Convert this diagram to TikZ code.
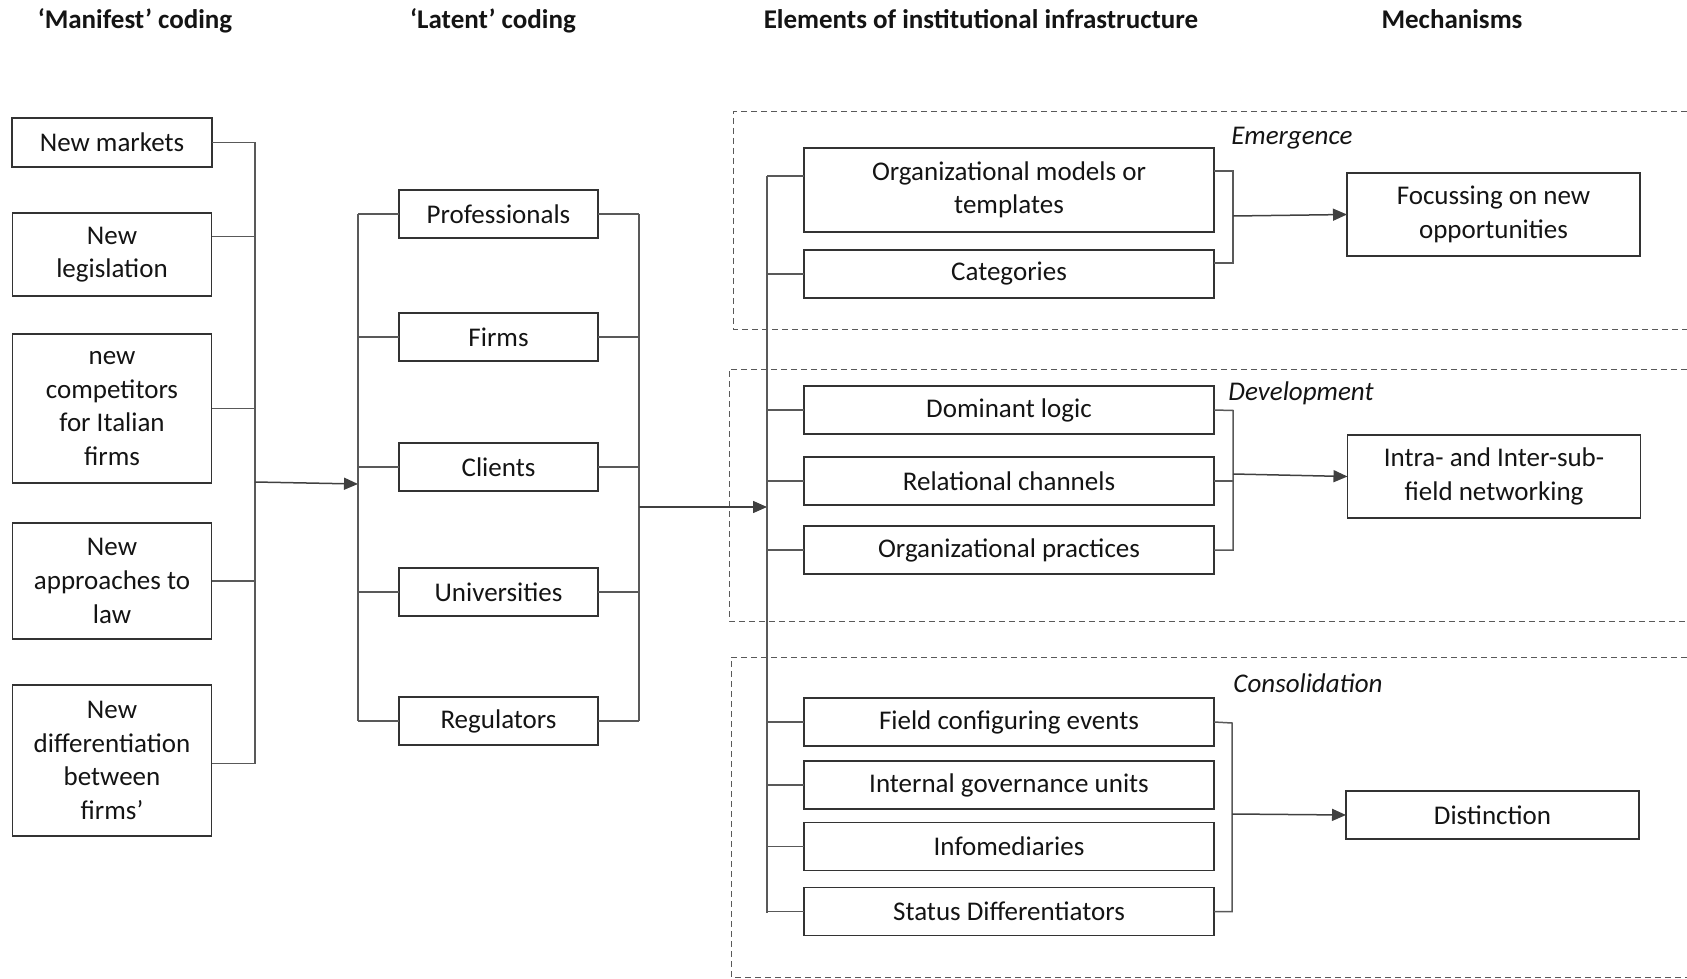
\documentclass[tikz,border=0pt]{standalone}
\usepackage{fontspec}
\setmainfont{Carlito}
\usetikzlibrary{positioning,arrows.meta}

\begin{document}
\begin{tikzpicture}[x=0.5pt, y=-0.5pt, node distance=20pt,
  main/.style = {draw=black!80, line width=0.8pt, align=center, inner sep=2pt, outer sep=0pt,
    text=black!92, font=\fontsize{13.5}{16.8}\selectfont},
  head/.style = {anchor=base, text=black!92, font=\bfseries\fontsize{13.5}{16}\selectfont},
  phase/.style = {anchor=base, text=black!92, font=\itshape\fontsize{13.5}{16}\selectfont},
  link/.style = {draw=black!65, line width=0.75pt},
  arr/.style = {link, draw=black!75, -{Triangle[length=7pt,width=6pt]}},
  zone/.style = {draw=black!65, line width=0.5pt, dash pattern=on 3pt off 2pt}]
\useasboundingbox (0,0) rectangle (1687,979);

% headers
\node[head] (h1) at (135,29) {‘Manifest’ coding};
\node[head] (h2) at (493,29) {‘Latent’ coding};
\node[head] (h3) at (981,29) {Elements of institutional infrastructure};
\node[head] (h4) at (1452,29) {Mechanisms};

% dashed phases
\draw[zone] (1687,112) -- (733,112) -- (733,329) -- (1687,329);
\draw[zone] (1687,369) -- (729,369) -- (729,621) -- (1687,621);
\draw[zone] (1687,657) -- (731,657) -- (731,977) -- (1687,977);
\node[phase] (p1) at (1292,145) {Emergence};
\node[phase] (p2) at (1301,400) {Development};
\node[phase] (p3) at (1308,692) {Consolidation};

% manifest coding
\node[main, minimum width=100pt, minimum height=24.5pt] (m1) at (112,142.5) {New markets};
\node[main, minimum width=99.5pt, minimum height=41.5pt] (m2) [below=23pt of m1] {New\\legislation};
\node[main, minimum width=99.5pt, minimum height=74.5pt] (m3) [below=19pt of m2] {new\\competitors\\for Italian\\firms};
\node[main, minimum width=99.5pt, minimum height=58pt] (m4) [below=20pt of m3] {New\\approaches to\\law};
\node[main, minimum width=99.5pt, minimum height=75.5pt] (m5) [below=23pt of m4] {New\\differentiation\\between\\firms’};

\coordinate (mtop) at (255,142.5);
\coordinate (mbot) at (255,764);
\draw[link] (mtop) -- (mbot);
\draw[link] (m1.east) -- (m1.east -| mtop);
\draw[link] ([yshift=9pt]m2.east) -- ([yshift=9pt]m2.east -| mtop);
\draw[link] (m3.east) -- (m3.east -| mtop);
\draw[link] (m4.east) -- (m4.east -| mtop);
\draw[link] ([yshift=-1.5pt]m5.east) -- ([yshift=-1.5pt]m5.east -| mtop);

% latent coding
\node[main, minimum width=99.5pt, minimum height=24pt] (l1) at (498.5,214) {Professionals};
\node[main, minimum width=99.5pt, minimum height=24pt] (l2) [below=37.5pt of l1] {Firms};
\node[main, minimum width=99.5pt, minimum height=24pt] (l3) [below=41pt of l2] {Clients};
\node[main, minimum width=99.5pt, minimum height=24pt] (l4) [below=38.5pt of l3] {Universities};
\node[main, minimum width=99.5pt, minimum height=24pt] (l5) [below=40.5pt of l4] {Regulators};

\coordinate (mout) at (255,482);
\coordinate (lin) at (358,484);
\draw[arr] (mout) -- (lin);

\coordinate (ltop) at (358,214);
\coordinate (lbot) at (358,721);
\coordinate (rtop) at (639,214);
\coordinate (rbot) at (639,721);
\draw[link] (ltop) -- (lbot);
\draw[link] (rtop) -- (rbot);
\draw[link] (l1.west -| ltop) -- (l1.west);
\draw[link] (l2.west -| ltop) -- (l2.west);
\draw[link] (l3.west -| ltop) -- (l3.west);
\draw[link] (l4.west -| ltop) -- (l4.west);
\draw[link] (l5.west -| ltop) -- (l5.west);
\draw[link] (l1.east) -- (l1.east -| rtop);
\draw[link] (l2.east) -- (l2.east -| rtop);
\draw[link] (l3.east) -- (l3.east -| rtop);
\draw[link] (l4.east) -- (l4.east -| rtop);
\draw[link] (l5.east) -- (l5.east -| rtop);

% elements of infrastructure
\node[main, minimum width=205pt, minimum height=42pt] (e1) at (1009,190) {Organizational models or\\templates};
\node[main, minimum width=205pt, minimum height=24pt] (e2) [below=9pt of e1] {Categories};
\node[main, minimum width=205pt, minimum height=24pt] (e3) [below=44pt of e2] {Dominant logic};
\node[main, minimum width=205pt, minimum height=24pt] (e4) [below=11.5pt of e3] {Relational channels};
\node[main, minimum width=205pt, minimum height=24pt] (e5) [below=10.5pt of e4] {Organizational practices};
\node[main, minimum width=205pt, minimum height=24pt] (e6) [below=62pt of e5] {Field configuring events};
\node[main, minimum width=205pt, minimum height=24pt] (e7) [below=7.5pt of e6] {Internal governance units};
\node[main, minimum width=205pt, minimum height=24pt] (e8) [below=6.75pt of e7] {Infomediaries};
\node[main, minimum width=205pt, minimum height=24pt] (e9) [below=8.5pt of e8] {Status Differentiators};

\coordinate (lout) at (639,507);
\coordinate (ein) at (767,507);
\draw[arr] (lout) -- (ein);

\coordinate (etop) at (767,176);
\coordinate (ebot) at (767,912.5);
\draw[link] (etop) -- (ebot);
\draw[link] (etop) -- ([yshift=7pt]e1.west);
\draw[link] (e2.west -| etop) -- (e2.west);
\draw[link] (e3.west -| etop) -- (e3.west);
\draw[link] (e4.west -| etop) -- (e4.west);
\draw[link] (e5.west -| etop) -- (e5.west);
\draw[link] (e6.west -| etop) -- (e6.west);
\draw[link] (e7.west -| etop) -- (e7.west);
\draw[link] (e8.west -| etop) -- (e8.west);
\draw[link] (e9.west -| etop) -- (e9.west);

% mechanisms
\node[main, minimum width=146.5pt, minimum height=41.5pt] (k1) at (1493.5,214.5) {Focussing on new\\opportunities};
\node[main, minimum width=146.5pt, minimum height=41.5pt] (k2) at (1494,476.5) {Intra- and Inter-sub-\\field networking};
\node[main, minimum width=146.5pt, minimum height=24pt] (k3) at (1492.5,815) {Distinction};

% emergence bracket
\coordinate (b1top) at (1233,171);
\coordinate (b1bot) at (1233,263);
\coordinate (g1) at (1233,216);
\draw[link] ([yshift=9.5pt]e1.east) -- (b1top) -- (b1bot) -- ([yshift=5.5pt]e2.east);
\draw[arr] (g1) -- (k1.west);

% development bracket
\coordinate (b2top) at (1233,410.5);
\coordinate (g2) at (1233,474);
\draw[link] (e3.east) -- (b2top) -- (e5.east -| b2top) -- (e5.east);
\draw[link] (e4.east) -- (e4.east -| b2top);
\draw[arr] (g2) -- (k2.west);

% consolidation bracket
\coordinate (b3top) at (1232,723);
\coordinate (g3) at (1232,814);
\draw[link] (e6.east) -- (b3top) -- (e9.east -| b3top) -- (e9.east);
\draw[arr] (g3) -- (k3.west);
\end{tikzpicture}
\end{document}
